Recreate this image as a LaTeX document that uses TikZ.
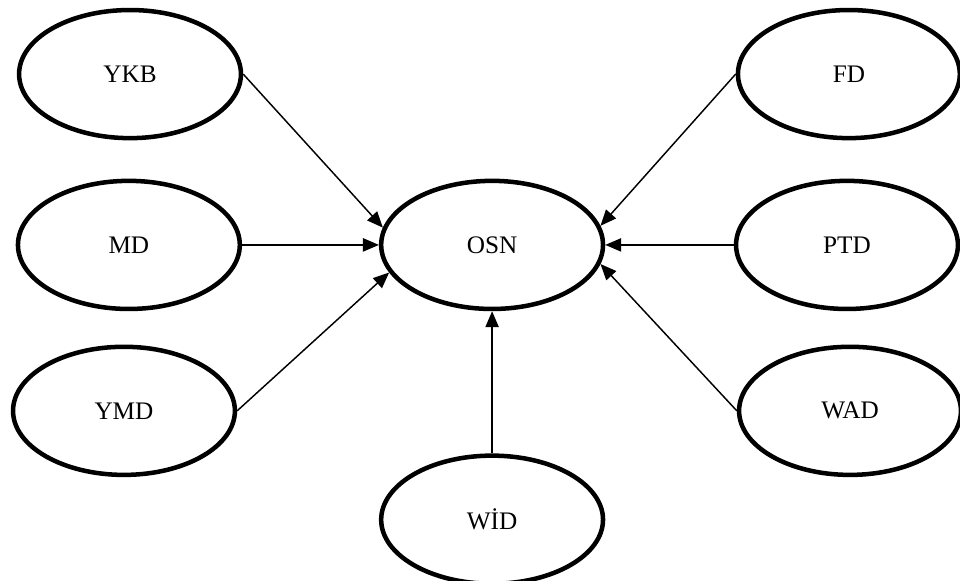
\documentclass[tikz,border=0pt]{standalone}
\usepackage{fontspec}
\setmainfont{Liberation Serif}
\usepackage{tikz}
\usetikzlibrary{arrows.meta,positioning,shapes.geometric}

\begin{document}
\begin{tikzpicture}[
    oval/.style={ellipse, draw=black, line width=3.4pt, fill=white,
                minimum width=5.87cm, minimum height=3.39cm,
                inner sep=1pt, font=\fontsize{19}{23}\selectfont},
    link/.style={draw=black, line width=1.1pt,
                -{Triangle[length=12pt,width=10pt]}},
]
\useasboundingbox (0,0) rectangle (25.4,-15.372);

% outer factors
\node[oval] (ykb) at (3.44, -1.96) {YKB};
\node[oval] (md)  at (3.41, -6.48) {MD};
\node[oval] (ymd) at (3.28, -10.87) {YMD};

\node[oval] (fd)  at (22.46, -1.96) {FD};
\node[oval] (ptd) at (22.41, -6.48) {PTD};
\node[oval] (wad) at (22.49, -10.87) {WAD};

\node[oval] (wid) at (13.02, -13.75) {WİD};

% centre
\node[oval] (osn) at (13.02, -6.48) {OSN};

\draw[link] (ykb.east) -- (osn.171);
\draw[link] (md.east)  -- (osn.west);
\draw[link] (ymd.east) -- (osn.195);
\draw[link] (fd.west)  -- (osn.10);
\draw[link] (ptd.west) -- (osn.east);
\draw[link] (wad.west) -- (osn.-10);
\draw[link] (wid.north) -- (osn.south);

\end{tikzpicture}
\end{document}
